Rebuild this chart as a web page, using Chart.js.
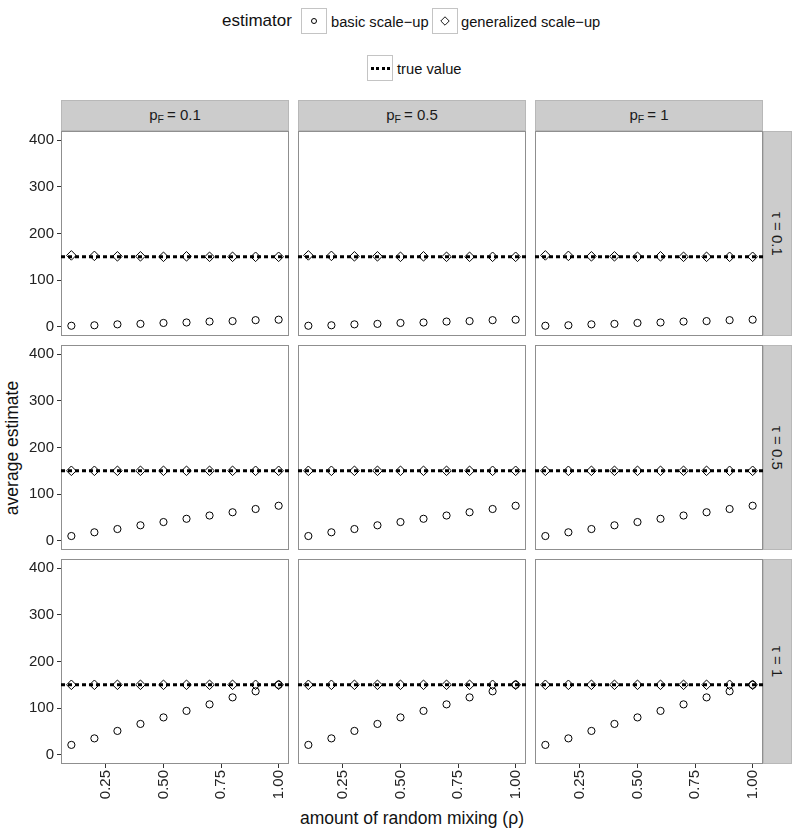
<!DOCTYPE html>
<html>
<head>
<meta charset="utf-8">
<script src="https://cdn.jsdelivr.net/npm/chart.js@4.4.1/dist/chart.umd.min.js"></script>
<style>
    body { margin: 0; background: #fff; font-family: "Liberation Sans", Arial, sans-serif; }
    #stage { position: relative; width: 800px; height: 835px; overflow: hidden; background: #fff; }
    .abs { position: absolute; }
    .strip { position: absolute; box-sizing: border-box; background: #cccccc; border: 1px solid #b8b8b8;
             color: #1a1a1a; font-size: 15px; display: flex; align-items: center; justify-content: center; }
    .strip sub { font-size: 10.5px; vertical-align: -3px; margin-right: 3px; }
    .vtext { writing-mode: vertical-rl; }
    .key { position: absolute; width: 26px; height: 26px; box-sizing: border-box; border: 1px solid #c4c4c4; background: #fff; }
    .key .circ { position: absolute; left: 9px; top: 9px; width: 6px; height: 6px; border: 1px solid #000; border-radius: 50%; box-sizing: border-box; }
    .key .diam { position: absolute; left: 8px; top: 8px; width: 8px; height: 8px; border: 1px solid #000; box-sizing: border-box; transform: rotate(45deg) scale(0.85); }
    .key .dots { position: absolute; left: 3px; top: 11px; width: 19px; height: 3px;
                 background: repeating-linear-gradient(90deg, #000 0 3px, transparent 3px 5.5px); }
    .lbl { position: absolute; font-size: 14.7px; color: #111; line-height: 18px; white-space: nowrap; }
</style>
</head>
<body>
<div id="stage">
    <div class="abs" style="left:222px;top:11px;font-size:17px;line-height:20px;color:#111;">estimator</div>
    <div class="key" style="left:301px;top:8px;"><span class="circ"></span></div>
    <div class="lbl" style="left:331px;top:13px;">basic scale−up</div>
    <div class="key" style="left:432px;top:8px;"><span class="diam"></span></div>
    <div class="lbl" style="left:461px;top:13px;">generalized scale−up</div>
    <div class="key" style="left:367px;top:55px;"><span class="dots"></span></div>
    <div class="lbl" style="left:397px;top:60px;">true value</div>

    <div class="abs" style="left:12px;top:448px;transform:translate(-50%,-50%) rotate(-90deg);font-size:17.5px;color:#111;white-space:nowrap;">average estimate</div>
    <div class="abs" style="left:412px;top:818px;transform:translate(-50%,-50%);font-size:17.5px;color:#111;white-space:nowrap;">amount of random mixing (ρ)</div>
</div>

<script>
// data
const rho = [0.1, 0.2, 0.3, 0.4, 0.5, 0.6, 0.7, 0.8, 0.9, 1.0];
const pFLevels = ['0.1', '0.5', '1'];
const tauLevels = ['0.1', '0.5', '1'];

const basicTau01 = [2, 3, 5, 6, 8, 9, 11, 12, 14, 15];
const basicTau05 = [10, 18, 25, 33, 40, 47, 54, 61, 68, 75];
const basicTau1 = [21, 35, 51, 66, 80, 94, 108, 123, 136, 150];

const generalizedTau01 = [153, 152, 151, 151, 150, 151, 150, 150, 150, 150];
const generalizedTau05 = [150, 150, 150, 150, 150, 150, 150, 150, 150, 150];
const generalizedTau1 = [150, 150, 150, 150, 150, 150, 150, 150, 150, 150];

const trueValue = 150;

const xTicks = [0.25, 0.50, 0.75, 1.00];
const yTicks = [0, 100, 200, 300, 400];
const xLimits = [0.055, 1.045];
const yLimits = [-20, 420];

const basicByTau = [basicTau01, basicTau05, basicTau1];
const generalizedByTau = [generalizedTau01, generalizedTau05, generalizedTau1];

// panel geometry
const PANEL_X = [61, 298, 535];
const PANEL_Y = [131, 345, 559];
const PW = 228, PH = 205;
const AXIS_W = 61, AXIS_H = 50;

const stage = document.getElementById('stage');

const panelFrame = {
    id: 'panelFrame',
    beforeDatasetsDraw(chart) {
        const { ctx, chartArea: a } = chart;
        ctx.save();
        ctx.strokeStyle = '#8f8f8f';
        ctx.lineWidth = 1;
        ctx.strokeRect(a.left + 0.5, a.top + 0.5, a.width - 1, a.height - 1);
        ctx.restore();
    }
};

function noPadding(scale) {
    scale.paddingTop = 0;
    scale.paddingBottom = 0;
    scale.paddingLeft = 0;
    scale.paddingRight = 0;
}

function pointsOf(values) {
    return rho.map((r, i) => ({ x: r, y: values[i] }));
}

function makePanel(row, col) {
    const isLeft = col === 0;
    const isBottom = row === 2;
    const w = PW + (isLeft ? AXIS_W : 0);
    const h = PH + (isBottom ? AXIS_H : 0);

    const canvas = document.createElement('canvas');
    canvas.width = w;
    canvas.height = h;
    canvas.style.cssText = `position:absolute;left:${PANEL_X[col] - (isLeft ? AXIS_W : 0)}px;top:${PANEL_Y[row]}px;width:${w}px;height:${h}px;`;
    stage.appendChild(canvas);

    const tickFont = { family: '"Liberation Sans", Arial, sans-serif', size: 15 };

    new Chart(canvas.getContext('2d'), {
        type: 'scatter',
        data: {
            datasets: [
                {
                    type: 'line',
                    label: 'true value',
                    data: [{ x: xLimits[0], y: trueValue }, { x: xLimits[1], y: trueValue }],
                    borderColor: '#000',
                    borderWidth: 3,
                    borderDash: [4, 3],
                    pointRadius: 0,
                    fill: false
                },
                {
                    label: 'generalized scale-up',
                    data: pointsOf(generalizedByTau[row]),
                    pointStyle: 'rectRot',
                    pointRadius: 4.8,
                    borderColor: '#000',
                    borderWidth: 1,
                    backgroundColor: 'rgba(0,0,0,0)'
                },
                {
                    label: 'basic scale-up',
                    data: pointsOf(basicByTau[row]),
                    pointStyle: 'circle',
                    pointRadius: 3.6,
                    borderColor: '#000',
                    borderWidth: 1,
                    backgroundColor: 'rgba(0,0,0,0)'
                }
            ]
        },
        options: {
            responsive: false,
            maintainAspectRatio: false,
            animation: false,
            events: [],
            layout: { padding: 0, autoPadding: false },
            plugins: { legend: { display: false }, tooltip: { enabled: false } },
            scales: {
                x: {
                    type: 'linear',
                    min: xLimits[0],
                    max: xLimits[1],
                    display: isBottom,
                    afterBuildTicks: s => { s.ticks = xTicks.map(v => ({ value: v })); },
                    afterFit: s => { s.height = isBottom ? AXIS_H : 0; noPadding(s); },
                    border: { display: false },
                    grid: { drawOnChartArea: false, drawTicks: true, tickLength: 4, color: '#333', tickWidth: 1 },
                    ticks: {
                        autoSkip: false,
                        minRotation: 90,
                        maxRotation: 90,
                        padding: 2,
                        color: '#222',
                        font: tickFont,
                        callback: v => v.toFixed(2)
                    }
                },
                y: {
                    type: 'linear',
                    min: yLimits[0],
                    max: yLimits[1],
                    display: isLeft,
                    afterBuildTicks: s => { s.ticks = yTicks.map(v => ({ value: v })); },
                    afterFit: s => { s.width = isLeft ? AXIS_W : 0; noPadding(s); },
                    border: { display: false },
                    grid: { drawOnChartArea: false, drawTicks: true, tickLength: 4, color: '#333', tickWidth: 1 },
                    ticks: {
                        padding: 3,
                        color: '#222',
                        font: tickFont,
                        callback: v => String(v)
                    }
                }
            }
        },
        plugins: [panelFrame]
    });
}

// strips
pFLevels.forEach((p, col) => {
    const d = document.createElement('div');
    d.className = 'strip';
    d.style.cssText = `left:${PANEL_X[col]}px;top:100px;width:${PW}px;height:${PANEL_Y[0] - 100}px;`;
    d.innerHTML = `<span>p<sub>F</sub>= ${p}</span>`;
    stage.appendChild(d);
});
tauLevels.forEach((t, row) => {
    const d = document.createElement('div');
    d.className = 'strip';
    d.style.cssText = `left:${PANEL_X[2] + PW}px;top:${PANEL_Y[row]}px;width:29px;height:${PH}px;`;
    d.innerHTML = `<span class="vtext">τ = ${t}</span>`;
    stage.appendChild(d);
});

for (let row = 0; row < 3; row++) {
    for (let col = 0; col < 3; col++) {
        makePanel(row, col);
    }
}
</script>
</body>
</html>
